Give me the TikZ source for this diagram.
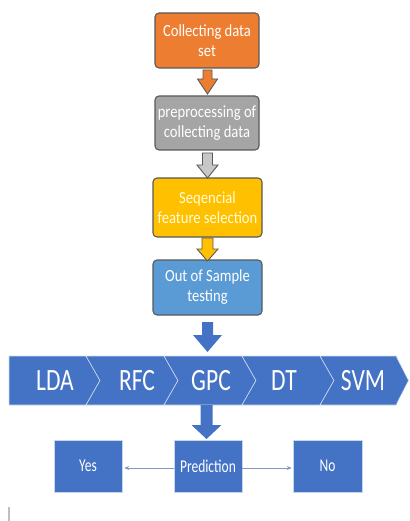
\documentclass[tikz,border=0pt]{standalone}
\usepackage{fontspec}
\setmainfont{Carlito}
\newfontfamily\boxfont[FakeStretch=0.86]{Carlito}
\newfontfamily\outfont[FakeStretch=0.75]{Carlito}
\newfontfamily\chevfont[FakeStretch=0.76]{Carlito}
\usetikzlibrary{arrows.meta,calc}
\definecolor{oforange}{HTML}{ED7D31}
\definecolor{ofgray}{HTML}{A5A5A5}
\definecolor{ofyellow}{HTML}{FFC000}
\definecolor{oflblue}{HTML}{5B9BD5}
\definecolor{ofdblue}{HTML}{4472C4}
\definecolor{ofline}{HTML}{8497C0}
\tikzset{
  stepbox/.style={rounded corners=4pt, draw=black!65, line width=1.1pt, text=white,
    align=center, inner sep=2pt, font=\boxfont\fontsize{17}{20}\selectfont},
  outbox/.style={fill=ofdblue, draw=white!70!ofdblue, line width=0.5pt, text=white,
    minimum height=52pt, inner sep=0pt, font=\outfont\fontsize{18}{20}\selectfont},
  chevtext/.style={text=white, inner sep=0pt, font=\chevfont\fontsize{31}{33}\selectfont},
  chev/.style={fill=ofdblue, draw=white!75!ofdblue, line width=0.6pt},
  smallarrow/.style={draw=black!65, line width=0.9pt, line join=miter},
  thinarrow/.style={draw=ofline, line width=1pt, -{Stealth[length=5pt,width=4pt]}}
}
\begin{document}
\begin{tikzpicture}[x=1pt,y=-1pt]
\useasboundingbox (0,0) rectangle (409,521);
% step boxes
\node[stepbox, fill=oforange, minimum width=104pt, minimum height=55pt] (b1) at (207,40.5) {Collecting data\\set};
\node[stepbox, fill=ofgray, minimum width=104pt, minimum height=54pt] (b2) at (207,123) {preprocessing of\\collecting data};
\node[stepbox, fill=ofyellow, text=white!85!yellow, minimum width=109pt, minimum height=59pt] (b3) at (207.5,207.5) {Seqencial\\feature selection};
\node[stepbox, fill=oflblue, minimum width=109pt, minimum height=55pt] (b4) at (207.5,287.5) {Out of Sample\\testing};
% small block arrows
\coordinate (a1) at (207.5,70);
\filldraw[smallarrow, fill=oforange] ($(a1)+(-4.5,0)$) -- ($(a1)+(4.5,0)$) -- ($(a1)+(4.5,9)$) -- ($(a1)+(10,9)$) -- ($(a1)+(0,24)$) -- ($(a1)+(-10,9)$) -- ($(a1)+(-4.5,9)$) -- cycle;
\coordinate (a2) at (207.5,153);
\filldraw[smallarrow, fill=black!22] ($(a2)+(-5,0)$) -- ($(a2)+(5,0)$) -- ($(a2)+(5,12)$) -- ($(a2)+(10.5,12)$) -- ($(a2)+(0,25)$) -- ($(a2)+(-10.5,12)$) -- ($(a2)+(-5,12)$) -- cycle;
\coordinate (a3) at (207.5,238);
\filldraw[smallarrow, fill=ofyellow] ($(a3)+(-5.5,0)$) -- ($(a3)+(5.5,0)$) -- ($(a3)+(5.5,11)$) -- ($(a3)+(10.5,11)$) -- ($(a3)+(0,23)$) -- ($(a3)+(-10.5,11)$) -- ($(a3)+(-5.5,11)$) -- cycle;
% chevrons
\fill[ofdblue] (9,356) rectangle (397,405);
\filldraw[chev] (9,356) -- (86,356) -- (100,380.5) -- (86,405) -- (9,405) -- cycle;
\filldraw[chev] (86,356) -- (164,356) -- (178,380.5) -- (164,405) -- (86,405) -- (100,380.5) -- cycle;
\filldraw[chev] (164,356) -- (242,356) -- (256,380.5) -- (242,405) -- (164,405) -- (178,380.5) -- cycle;
\filldraw[chev] (242,356) -- (320,356) -- (334,380.5) -- (320,405) -- (242,405) -- (256,380.5) -- cycle;
\filldraw[chev] (320,356) -- (396,356) -- (408.5,380.5) -- (396,405) -- (320,405) -- (334,380.5) -- cycle;
\node[chevtext] (lda) at (55,380.5) {LDA};
\node[chevtext] (rfc) at (137,380.5) {RFC};
\node[chevtext] (gpc) at (211,380.5) {GPC};
\node[chevtext] (dt) at (284,380.5) {DT};
\node[chevtext] (svm) at (363,380.5) {SVM};
% big arrows
\coordinate (a4) at (207.5,322);
\fill[ofdblue] ($(a4)+(-5.5,0)$) -- ($(a4)+(5.5,0)$) -- ($(a4)+(5.5,13)$) -- ($(a4)+(14.5,13)$) -- ($(a4)+(0,30)$) -- ($(a4)+(-14.5,13)$) -- ($(a4)+(-5.5,13)$) -- cycle;
\coordinate (a5) at (206.5,405);
\fill[ofdblue] ($(a5)+(-6,0)$) -- ($(a5)+(6,0)$) -- ($(a5)+(6,20)$) -- ($(a5)+(15,20)$) -- ($(a5)+(0,34)$) -- ($(a5)+(-15,20)$) -- ($(a5)+(-6,20)$) -- cycle;
% outcome boxes
\node[outbox, minimum width=68pt] (yes) at (88,466) {Yes};
\node[outbox, minimum width=68pt] (pred) at (208,466) {Prediction};
\node[outbox, minimum width=69pt] (no) at (327.5,466) {No};
\draw[thinarrow] ($(pred.west)+(0,2)$) -- ($(yes.east)+(2,2)$);
\draw[thinarrow] ($(pred.east)+(0,2)$) -- ($(no.west)+(-1,2)$);
% stray mark
\coordinate (m1) at (9,507);
\coordinate (m2) at (9,521);
\draw[black!25, line width=1.8pt] (m1) -- (m2);
\end{tikzpicture}
\end{document}
